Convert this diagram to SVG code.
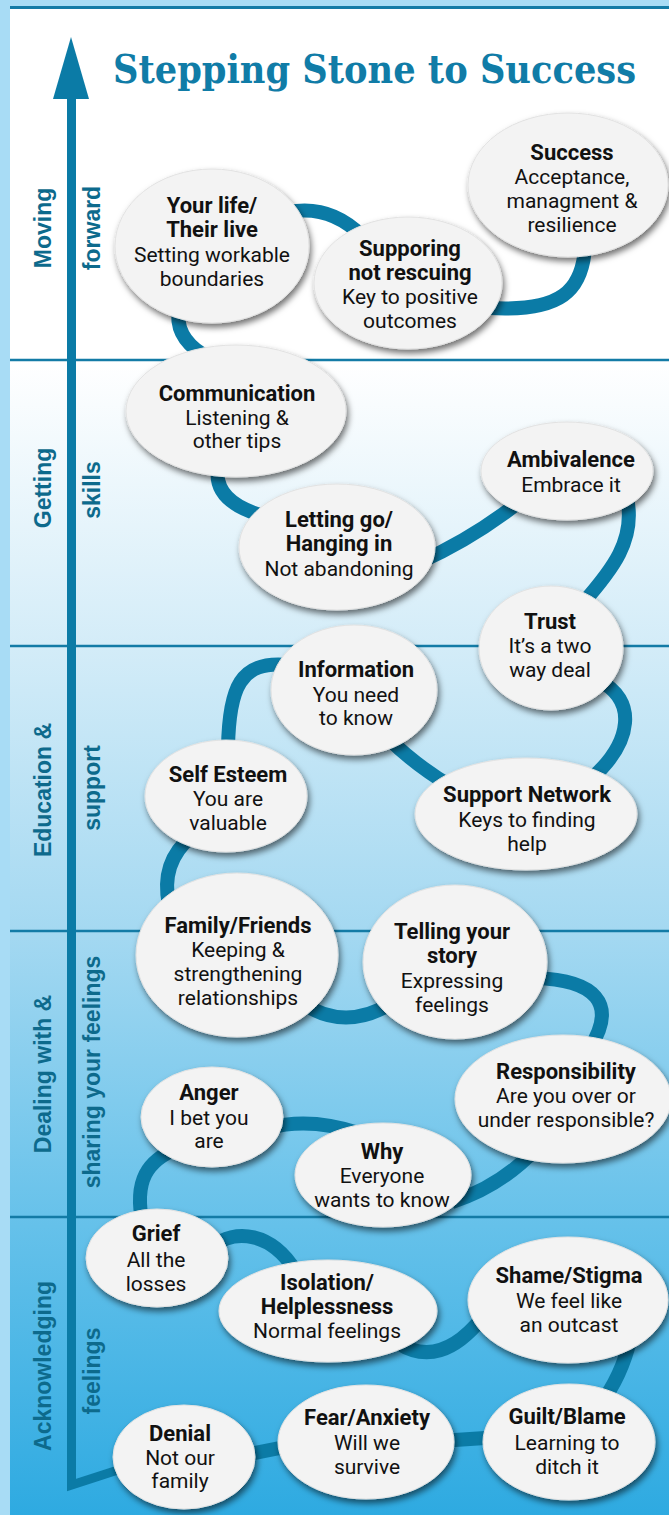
<svg xmlns="http://www.w3.org/2000/svg" width="669" height="1515" viewBox="0 0 669 1515">
<defs>
<linearGradient id="bg" x1="0" y1="360" x2="0" y2="1515" gradientUnits="userSpaceOnUse">
<stop offset="0" stop-color="#ffffff"/>
<stop offset="0.25" stop-color="#d3ecf8"/>
<stop offset="0.5" stop-color="#a3d8f1"/>
<stop offset="0.75" stop-color="#65c1ea"/>
<stop offset="1" stop-color="#2eaae1"/>
</linearGradient>
<filter id="sh" x="-20%" y="-20%" width="145%" height="150%">
<feDropShadow dx="2" dy="4" stdDeviation="3" flood-color="#000" flood-opacity="0.55"/>
</filter>
<style>
.node ellipse{fill:#f3f3f3;stroke:#e2e2e2;stroke-width:1;filter:url(#sh)}
.node text{font-family:Roboto,"Liberation Sans",sans-serif;text-anchor:middle;fill:#111}
.b{font-weight:bold;font-size:22px}
.r{font-size:21px}
.lbl{font-family:"Liberation Sans",Arial,sans-serif;font-weight:bold;font-size:23px;fill:#0d6a8c;text-anchor:middle}
.div{stroke:#137ba6;stroke-width:2.5}
#connectors path{fill:none;stroke:#0b7ba6;stroke-width:14;stroke-linecap:butt}
</style>
</defs>
<!-- background -->
<rect x="0" y="0" width="669" height="1515" fill="#a8dcf5"/>
<rect x="10" y="9" width="659" height="351" fill="#ffffff"/>
<rect x="10" y="360" width="659" height="1155" fill="url(#bg)"/>
<line x1="10" y1="7.5" x2="669" y2="7.5" stroke="#137ba6" stroke-width="3"/>
<g id="dividers">
<line class="div" x1="10" y1="360" x2="669" y2="360"/>
<line class="div" x1="10" y1="646" x2="669" y2="646"/>
<line class="div" x1="10" y1="931" x2="669" y2="931"/>
<line class="div" x1="10" y1="1217" x2="669" y2="1217"/>
</g>
<text id="title" x="113" y="83" font-family="'DejaVu Serif Condensed','DejaVu Serif','Liberation Serif',serif" font-weight="bold" font-size="40" fill="#107ca7" textLength="523" lengthAdjust="spacingAndGlyphs">Stepping Stone to Success</text>
<!-- axis -->
<g id="axis">
<path d="M71.5,95 L71.5,1485 L121,1469" fill="none" stroke="#0b7ba6" stroke-width="9" stroke-linejoin="miter"/>
<polygon points="71,37 89,99 53,99" fill="#0b7ba6"/>
</g>
<!-- section labels -->
<g id="labels">
<text class="lbl" transform="translate(51,228) rotate(-90)">Moving</text>
<text class="lbl" transform="translate(99.5,228) rotate(-90)">forward</text>
<text class="lbl" transform="translate(51,488) rotate(-90)">Getting</text>
<text class="lbl" transform="translate(99.5,490) rotate(-90)">skills</text>
<text class="lbl" transform="translate(51,790) rotate(-90)">Education &amp;</text>
<text class="lbl" transform="translate(99.5,788) rotate(-90)">support</text>
<text class="lbl" transform="translate(51,1074) rotate(-90)">Dealing with &amp;</text>
<text class="lbl" transform="translate(99.5,1072) rotate(-90)">sharing your feelings</text>
<text class="lbl" transform="translate(51,1366) rotate(-90)">Acknowledging</text>
<text class="lbl" transform="translate(99.5,1371) rotate(-90)">feelings</text>
</g>
<!-- connectors -->
<g id="connectors">
<path d="M240,1456 L295,1445"/>
<path d="M440,1441 L500,1437"/>
<path d="M600,1405 Q622,1375 630,1340"/>
<path d="M398,1343 Q440,1370 482,1318"/>
<path d="M212,1247 C235,1228 272,1232 296,1272"/>
<path d="M143,1225 C133,1180 148,1160 178,1148"/>
<path d="M268,1128 Q310,1117 358,1133"/>
<path d="M452,1202 Q500,1187 537,1148"/>
<path d="M535,978 C595,980 618,1003 590,1048"/>
<path d="M302,1003 Q345,1032 392,1003"/>
<path d="M169,905 Q160,862 192,836"/>
<path d="M228,748 C229,688 240,660 288,665"/>
<path d="M388,738 Q415,765 452,787"/>
<path d="M598,680 C638,700 632,742 592,778"/>
<path d="M627,498 C636,540 612,570 583,603"/>
<path d="M420,562 Q470,540 518,503"/>
<path d="M218,468 Q213,502 264,516"/>
<path d="M179,308 Q174,336 202,354"/>
<path d="M288,212 Q330,204 362,236"/>
<path d="M490,308 C562,312 582,290 585,248"/>
</g>
<!-- nodes -->
<g id="n-yourlife" class="node"><ellipse cx="212" cy="246" rx="97" ry="77"/>
<text class="b" x="212" y="213">Your life/</text><text class="b" x="212" y="237">Their live</text>
<text class="r" x="212" y="262">Setting workable</text><text class="r" x="212" y="286">boundaries</text></g>
<g id="n-supporing" class="node"><ellipse cx="408" cy="283" rx="94" ry="66"/>
<text class="b" x="410" y="256">Supporing</text><text class="b" x="410" y="280">not rescuing</text>
<text class="r" x="410" y="304">Key to positive</text><text class="r" x="410" y="328">outcomes</text></g>
<g id="n-success" class="node"><ellipse cx="568" cy="185" rx="100" ry="72"/>
<text class="b" x="572" y="160">Success</text><text class="r" x="572" y="184">Acceptance,</text>
<text class="r" x="572" y="208">managment &amp;</text><text class="r" x="572" y="232">resilience</text></g>
<g id="n-communication" class="node"><ellipse cx="236" cy="411" rx="110" ry="66"/>
<text class="b" x="237" y="401">Communication</text><text class="r" x="237" y="425">Listening &amp;</text>
<text class="r" x="237" y="448">other tips</text></g>
<g id="n-letting" class="node"><ellipse cx="337" cy="547" rx="98" ry="63"/>
<text class="b" x="339" y="527">Letting go/</text><text class="b" x="339" y="551">Hanging in</text>
<text class="r" x="339" y="576">Not abandoning</text></g>
<g id="n-ambivalence" class="node"><ellipse cx="567" cy="471" rx="86" ry="49"/>
<text class="b" x="571" y="467">Ambivalence</text><text class="r" x="571" y="492">Embrace it</text></g>
<g id="n-trust" class="node"><ellipse cx="551" cy="648" rx="72" ry="62"/>
<text class="b" x="550" y="629">Trust</text><text class="r" x="550" y="653">It’s a two</text>
<text class="r" x="550" y="677">way deal</text></g>
<g id="n-information" class="node"><ellipse cx="354" cy="690" rx="83" ry="65"/>
<text class="b" x="356" y="677">Information</text><text class="r" x="356" y="702">You need</text>
<text class="r" x="356" y="725">to know</text></g>
<g id="n-selfesteem" class="node"><ellipse cx="226" cy="796" rx="81" ry="56"/>
<text class="b" x="228" y="782">Self Esteem</text><text class="r" x="228" y="806">You are</text>
<text class="r" x="228" y="830">valuable</text></g>
<g id="n-support" class="node"><ellipse cx="526" cy="814" rx="111" ry="56"/>
<text class="b" x="527" y="802">Support Network</text><text class="r" x="527" y="827">Keys to finding</text>
<text class="r" x="527" y="851">help</text></g>
<g id="n-family" class="node"><ellipse cx="237" cy="955" rx="101" ry="82"/>
<text class="b" x="238" y="933">Family/Friends</text><text class="r" x="238" y="957">Keeping &amp;</text>
<text class="r" x="238" y="981">strengthening</text><text class="r" x="238" y="1005">relationships</text></g>
<g id="n-telling" class="node"><ellipse cx="455" cy="962" rx="92" ry="77"/>
<text class="b" x="452" y="939">Telling your</text><text class="b" x="452" y="963">story</text>
<text class="r" x="452" y="988">Expressing</text><text class="r" x="452" y="1012">feelings</text></g>
<g id="n-responsibility" class="node"><ellipse cx="563" cy="1099" rx="108" ry="64"/>
<text class="b" x="566" y="1079">Responsibility</text><text class="r" x="566" y="1103">Are you over or</text>
<text class="r" x="566" y="1127">under responsible?</text></g>
<g id="n-anger" class="node"><ellipse cx="212" cy="1117" rx="71" ry="50"/>
<text class="b" x="209" y="1100">Anger</text><text class="r" x="209" y="1125">I bet you</text>
<text class="r" x="209" y="1148">are</text></g>
<g id="n-why" class="node"><ellipse cx="383" cy="1175" rx="88" ry="52"/>
<text class="b" x="382" y="1159">Why</text><text class="r" x="382" y="1183">Everyone</text>
<text class="r" x="382" y="1207">wants to know</text></g>
<g id="n-grief" class="node"><ellipse cx="157" cy="1258" rx="71" ry="49"/>
<text class="b" x="156" y="1241">Grief</text><text class="r" x="156" y="1267">All the</text>
<text class="r" x="156" y="1291">losses</text></g>
<g id="n-isolation" class="node"><ellipse cx="328" cy="1311" rx="109" ry="51"/>
<text class="b" x="327" y="1290">Isolation/</text><text class="b" x="327" y="1314">Helplessness</text>
<text class="r" x="327" y="1338">Normal feelings</text></g>
<g id="n-shame" class="node"><ellipse cx="568" cy="1300" rx="100" ry="63"/>
<text class="b" x="569" y="1283">Shame/Stigma</text><text class="r" x="569" y="1308">We feel like</text>
<text class="r" x="569" y="1332">an outcast</text></g>
<g id="n-denial" class="node"><ellipse cx="184" cy="1457" rx="71" ry="52"/>
<text class="b" x="180" y="1441">Denial</text><text class="r" x="180" y="1465">Not our</text>
<text class="r" x="180" y="1488">family</text></g>
<g id="n-fear" class="node"><ellipse cx="366" cy="1442" rx="88" ry="57"/>
<text class="b" x="367" y="1425">Fear/Anxiety</text><text class="r" x="367" y="1450">Will we</text>
<text class="r" x="367" y="1474">survive</text></g>
<g id="n-guilt" class="node"><ellipse cx="569" cy="1442" rx="86" ry="58"/>
<text class="b" x="567" y="1424">Guilt/Blame</text><text class="r" x="567" y="1450">Learning to</text>
<text class="r" x="567" y="1474">ditch it</text></g>
</svg>
